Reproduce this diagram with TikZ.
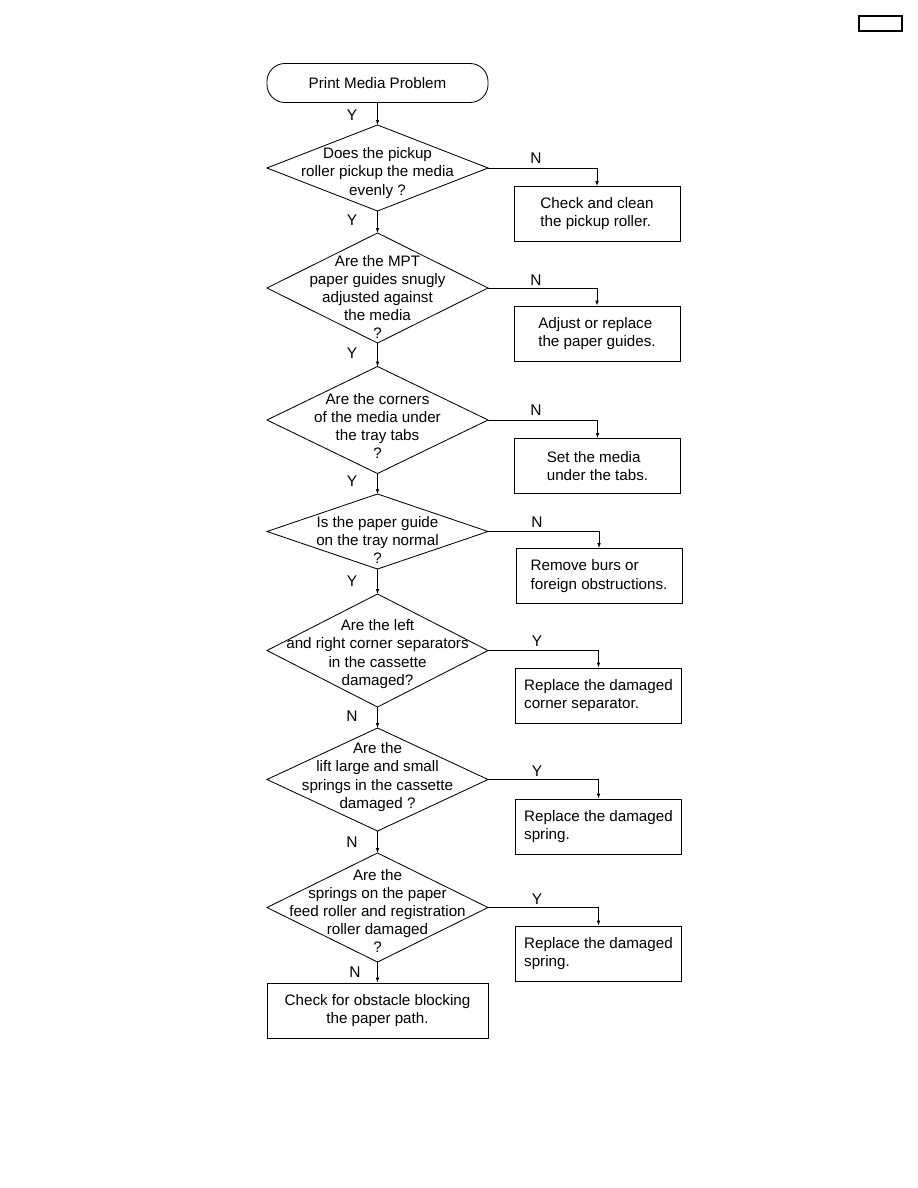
\documentclass[tikz,border=0pt]{standalone}
\usepackage{fontspec}
\setmainfont{Liberation Sans}
\usetikzlibrary{arrows.meta, positioning, shapes.geometric}

\begin{document}
\begin{tikzpicture}[
  x=0.025cm, y=-0.025cm,
  normal/.style={line width=0.6pt, -{Latex[length=3.5pt,width=2.6pt]}},
  box/.style={
    draw,
    line width=0.6pt,
    rectangle,
    minimum width=4.15cm,
    minimum height=1.375cm,
    inner sep=0pt,
    align=left,
    font=\fontsize{10.8}{12.9}\selectfont
  },
  terminal/.style={
    draw,
    line width=0.6pt,
    rectangle,
    rounded corners=0.45cm,
    minimum width=5.525cm,
    minimum height=0.975cm,
    font=\fontsize{10.8}{12.9}\selectfont
  },
  decision/.style={draw, line width=0.6pt, diamond, minimum width=5.525cm, inner sep=0pt, outer sep=0pt},
  qtext/.style={align=center, inner sep=0pt, font=\fontsize{10.8}{12.9}\selectfont},
  lbl/.style={inner sep=0pt, font=\fontsize{11}{13}\selectfont}
]

  \useasboundingbox (0,0) rectangle (918,1188);

  % empty page-number box
  \node[draw, line width=0.9pt, minimum width=1.075cm, minimum height=0.375cm] (pagebox) at (880.5,23.5) {};

  \node[terminal] (begin) at (377.5,83) {Print Media Problem};

  % pickup roller
  \node[decision, minimum height=2.15cm] (q1) at (377.5,168) {};
  \node[qtext] (q1text) at (377.5,173) {Does the pickup\\roller pickup the media\\evenly ?};
  \node[box] (fix1) at (597,214) {Check and clean\\the pickup roller.};
  \draw[normal] (begin.south) -- (q1.north);
  \draw[normal] (q1.east) -| (fix1.north);

  % paper guides
  \node[decision, minimum height=2.75cm] (q2) at (377.5,288) {};
  \node[qtext] (q2text) at (377.5,297) {Are the MPT\\paper guides snugly\\adjusted against\\the media\\?};
  \node[box] (fix2) at (597,333.5) {Adjust or replace\\the paper guides.};
  \draw[normal] (q1.south) -- (q2.north);
  \draw[normal] (q2.east) -| (fix2.north);

  % tray tabs
  \node[decision, minimum height=2.675cm] (q3) at (377.5,420) {};
  \node[qtext] (q3text) at (377.5,426) {Are the corners\\of the media under\\the tray tabs\\?};
  \node[box] (fix3) at (597.5,466) {Set the media\\under the tabs.};
  \draw[normal] (q2.south) -- (q3.north);
  \draw[normal] (q3.east) -| (fix3.north);

  % paper guide on tray
  \node[decision, minimum height=1.875cm] (q4) at (377.5,531.5) {};
  \node[qtext] (q4text) at (377.5,540) {Is the paper guide\\on the tray normal\\?};
  \node[box] (fix4) at (599,576) {Remove burs or\\foreign obstructions.};
  \draw[normal] (q3.south) -- (q4.north);
  \draw[normal] (q4.east) -| (fix4.north);

  % corner separators
  \node[decision, minimum height=2.825cm] (q5) at (377.5,650.5) {};
  \node[qtext] (q5text) at (377.5,654) {Are the left\\and right corner separators\\in the cassette\\damaged?};
  \node[box] (fix5) at (598.5,695.5) {Replace the damaged\\corner separator.};
  \draw[normal] (q4.south) -- (q5.north);
  \draw[normal] (q5.east) -| (fix5.north);

  % lift springs
  \node[decision, minimum height=2.575cm] (q6) at (377.5,779.5) {};
  \node[qtext] (q6text) at (377.5,777) {Are the\\lift large and small\\springs in the cassette\\damaged ?};
  \node[box] (fix6) at (598.5,826.5) {Replace the damaged\\spring.};
  \draw[normal] (q5.south) -- (q6.north);
  \draw[normal] (q6.east) -| (fix6.north);

  % feed roller springs
  \node[decision, minimum height=2.725cm] (q7) at (377.5,907.5) {};
  \node[qtext] (q7text) at (377.5,911) {Are the\\springs on the paper\\feed roller and registration\\roller damaged\\?};
  \node[box] (fix7) at (598.5,953.5) {Replace the damaged\\spring.};
  \draw[normal] (q6.south) -- (q7.north);
  \draw[normal] (q7.east) -| (fix7.north);

  \node[box, minimum width=5.525cm, align=center] (obstacle) at (377.5,1010.5) {Check for obstacle blocking\\the paper path.};
  \draw[normal] (q7.south) -- (obstacle.north);

  % branch labels
  \node[lbl] (y0) at (352,115) {Y};
  \node[lbl] (n1) at (536,158) {N};
  \node[lbl] (y1) at (352,220) {Y};
  \node[lbl] (n2) at (536,280) {N};
  \node[lbl] (y2) at (352,353) {Y};
  \node[lbl] (n3) at (536,410) {N};
  \node[lbl] (y3) at (352,481) {Y};
  \node[lbl] (n4) at (537,522) {N};
  \node[lbl] (y4) at (352,581) {Y};
  \node[lbl] (y5) at (537,641) {Y};
  \node[lbl] (n5) at (352,716) {N};
  \node[lbl] (y6) at (537,771) {Y};
  \node[lbl] (n6) at (352,842) {N};
  \node[lbl] (y7) at (537,899) {Y};
  \node[lbl] (n7) at (355,972) {N};

\end{tikzpicture}
\end{document}
